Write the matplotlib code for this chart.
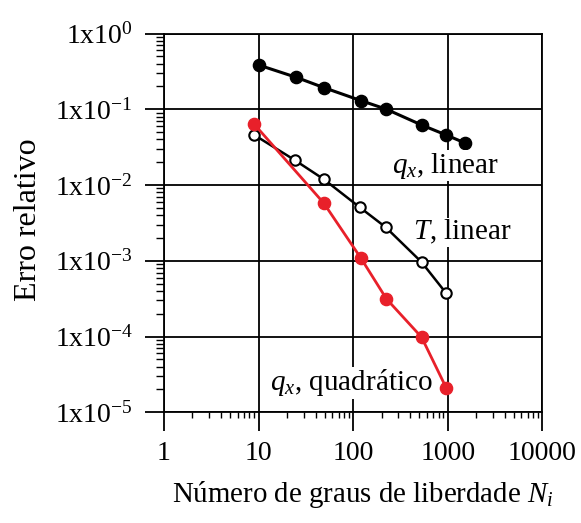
import math
import matplotlib
matplotlib.use("Agg")
import matplotlib.pyplot as plt
from matplotlib.ticker import LogLocator, FixedLocator, FuncFormatter, NullFormatter

plt.rcParams['font.family'] = ['Liberation Serif', 'DejaVu Serif']
plt.rcParams['mathtext.fontset'] = 'custom'
plt.rcParams['mathtext.rm'] = 'Liberation Serif'
plt.rcParams['mathtext.it'] = 'Liberation Serif:italic'

# Data
n_qx_lin = [10, 25, 49, 121, 225, 529, 961, 1521]
err_qx_lin = [0.384, 0.264, 0.193, 0.130, 0.100, 0.062, 0.0458, 0.0359]

n_t_lin = [9, 24, 49, 117, 221, 529, 961]
err_t_lin = [0.0458, 0.0214, 0.0119, 0.0051, 0.00277, 0.00096, 0.000374]

n_qx_quad = [9, 49, 121, 225, 529, 961]
err_qx_quad = [0.0634, 0.00575, 0.00108, 0.000314, 0.000098, 0.0000212]

x_ticks = [1, 10, 100, 1000, 10000]
y_exps = [0, -1, -2, -3, -4, -5]

red = '#e8202a'

fig = plt.figure(figsize=(5.81, 5.23), dpi=100)
ax = fig.add_axes([164 / 581, 1 - 412.3 / 523, (542.3 - 164) / 581, (412.3 - 33.5) / 523])
ax.set_xscale('log')
ax.set_yscale('log')
ax.set_xlim(1, 10000)
ax.set_ylim(1e-5, 1)

# curves
ax.plot(n_qx_lin, err_qx_lin, '-o', color='black', lw=2.2, ms=8.8, zorder=3)
ax.plot(n_t_lin, err_t_lin, '-o', color='black', lw=1.8, ms=7.5, mfc='white', mec='black', mew=1.5, zorder=3)
ax.plot(n_qx_quad, err_qx_quad, '-o', color=red, lw=2.0, ms=8.8, zorder=3)

# grid and ticks
ax.xaxis.set_major_locator(FixedLocator(x_ticks))
ax.xaxis.set_minor_locator(LogLocator(base=10, subs=range(2, 10), numticks=20))
ax.yaxis.set_major_locator(FixedLocator([10.0 ** e for e in y_exps]))
ax.yaxis.set_minor_locator(LogLocator(base=10, subs=range(2, 10), numticks=20))
ax.xaxis.set_major_formatter(FuncFormatter(lambda v, p: '%d' % round(v)))
ax.yaxis.set_major_formatter(FuncFormatter(lambda v, p: r'1x10$^{%d}$' % round(math.log10(v))))
ax.xaxis.set_minor_formatter(NullFormatter())
ax.yaxis.set_minor_formatter(NullFormatter())
ax.grid(True, which='major', color='black', lw=1.3)
ax.tick_params(which='major', direction='out', length=14, width=1.3, labelsize=20)
ax.tick_params(axis='x', which='major', pad=7)
ax.tick_params(axis='y', which='major', pad=8.5)
ax.tick_params(which='minor', direction='out', length=4, width=1.0)
ax.tick_params(axis='y', which='minor', length=6)
for sp in ax.spines.values():
    sp.set_linewidth(1.3)

# annotations (white box hides the grid behind the text)
box = dict(facecolor='white', edgecolor='none', pad=0.5)
ax.text(257, 0.01445, r'$q_x$, linear', fontsize=21, va='baseline', ha='left', bbox=box, zorder=4)
ax.text(428, 0.00189, r'$T$, linear', fontsize=21, va='baseline', ha='left', bbox=box, zorder=4)
ax.text(13.1, 1.94e-5, r'$q_x$, quadrático', fontsize=21, va='baseline', ha='left', bbox=box, zorder=2.5)

# axis labels
fig.text(29 / 581, 1 - 220 / 523, 'Erro relativo', rotation=90, fontsize=23, ha='center', va='center')
fig.text(363 / 581, 1 - 495 / 523, r'Número de graus de liberdade $N_i$', fontsize=20.8, ha='center', va='center')

fig.savefig('out.png', dpi=100)
